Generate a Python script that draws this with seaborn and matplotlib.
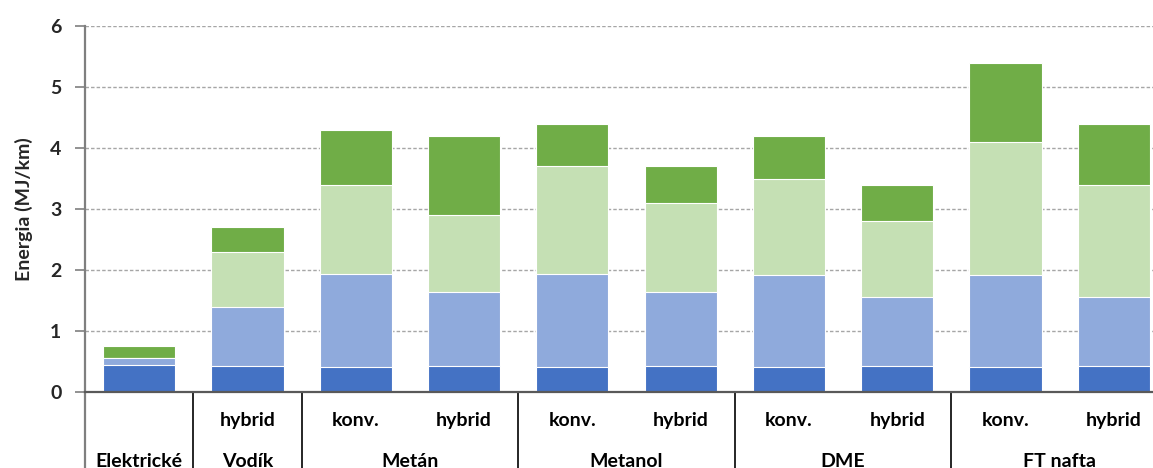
import matplotlib
matplotlib.use("Agg")
import matplotlib.pyplot as plt
import numpy as np
import pandas as pd
import seaborn as sns

# Fuel groups and how many vehicle variants each one has
groups = ["Elektrické", "Vodík", "Metán", "Metanol", "DME", "FT nafta"]
group_sizes = [1, 1, 2, 2, 2, 2]

# Variant label of every bar
bar_sub = ["", "hybrid", "konv.", "hybrid", "konv.", "hybrid",
           "konv.", "hybrid", "konv.", "hybrid"]

# Energy components per bar (MJ/km), stacked bottom to top
seg_dark_blue = [0.44, 0.43, 0.41, 0.43, 0.41, 0.43, 0.41, 0.43, 0.41, 0.43]
seg_light_blue = [0.11, 0.97, 1.52, 1.21, 1.53, 1.21, 1.50, 1.13, 1.50, 1.13]
seg_light_green = [0.00, 0.90, 1.47, 1.26, 1.76, 1.46, 1.59, 1.24, 2.19, 1.84]
seg_green = [0.20, 0.40, 0.90, 1.30, 0.70, 0.60, 0.70, 0.60, 1.30, 1.00]

bar_group = [g for g, k in zip(groups, group_sizes) for _ in range(k)]
bar_ids = [f"{g} {s}".strip() for g, s in zip(bar_group, bar_sub)]
n = len(bar_ids)

colors = ["#4472C4", "#8FAADC", "#C5E0B4", "#70AD47"]
layers = [seg_dark_blue, seg_light_blue, seg_light_green, seg_green]

df = pd.DataFrame({"bar": bar_ids})
cum = np.cumsum(np.array(layers), axis=0)

sns.set_theme(style="white")
plt.rcParams["font.family"] = ["Lato", "DejaVu Sans"]
plt.rcParams["font.weight"] = "bold"

FS = 14

fig = plt.figure(figsize=(11.53, 4.68), dpi=100)
ax = fig.add_axes([85 / 1153, 76 / 468, (1168 - 85) / 1153, 366 / 468])

# Stacked bars drawn as overlapping cumulative totals, top layer first
for k in range(len(layers) - 1, -1, -1):
    df["value"] = cum[k]
    sns.barplot(data=df, x="bar", y="value", order=bar_ids, color=colors[k],
                width=0.667, saturation=1, edgecolor="white", linewidth=0.8,
                ax=ax, zorder=2)

ax.set_xlim(-0.5, n - 0.5)
ax.set_ylim(0, 6)
ax.set_yticks(range(0, 7))
ax.yaxis.grid(True, linestyle=(0, (2.5, 1.5)), color="#A6A6A6", linewidth=1.0)
ax.set_axisbelow(True)
ax.tick_params(axis="y", left=True, length=7, width=1.2, color="#7F7F7F",
               labelsize=FS, pad=10)
for lbl in ax.get_yticklabels():
    lbl.set_fontweight("bold")
ax.set_xticks([])
ax.set_xlabel("")
ax.set_ylabel("Energia (MJ/km)", fontsize=FS, fontweight="bold", labelpad=12)

for side in ["top", "right"]:
    ax.spines[side].set_visible(False)
ax.spines["bottom"].set_color("#595959")
ax.spines["bottom"].set_linewidth(1.6)
ax.spines["left"].set_color("#7F7F7F")
ax.spines["left"].set_linewidth(1.6)
ax.spines["left"].set_bounds(0, 6)

# Category area below the axis: dividers and two-level labels
xt = ax.get_xaxis_transform()
ax.plot([-0.5, -0.5], [0, -0.3], transform=xt, color="#7F7F7F", lw=1.6,
        clip_on=False)
edges = np.cumsum(group_sizes) - 0.5
for e in edges[:-1]:
    ax.plot([e, e], [0, -0.3], transform=xt, color="#262626", lw=1.4,
            clip_on=False)

for i, s in enumerate(bar_sub):
    if s:
        ax.text(i, -0.078, s, transform=xt, ha="center", va="center",
                fontsize=FS, fontweight="bold", color="black")
start = 0
for g, size in zip(groups, group_sizes):
    centre = start + (size - 1) / 2
    ax.text(centre, -0.19, g, transform=xt, ha="center", va="center",
            fontsize=FS, fontweight="bold", color="black")
    start += size

fig.savefig("out.png", dpi=100)
